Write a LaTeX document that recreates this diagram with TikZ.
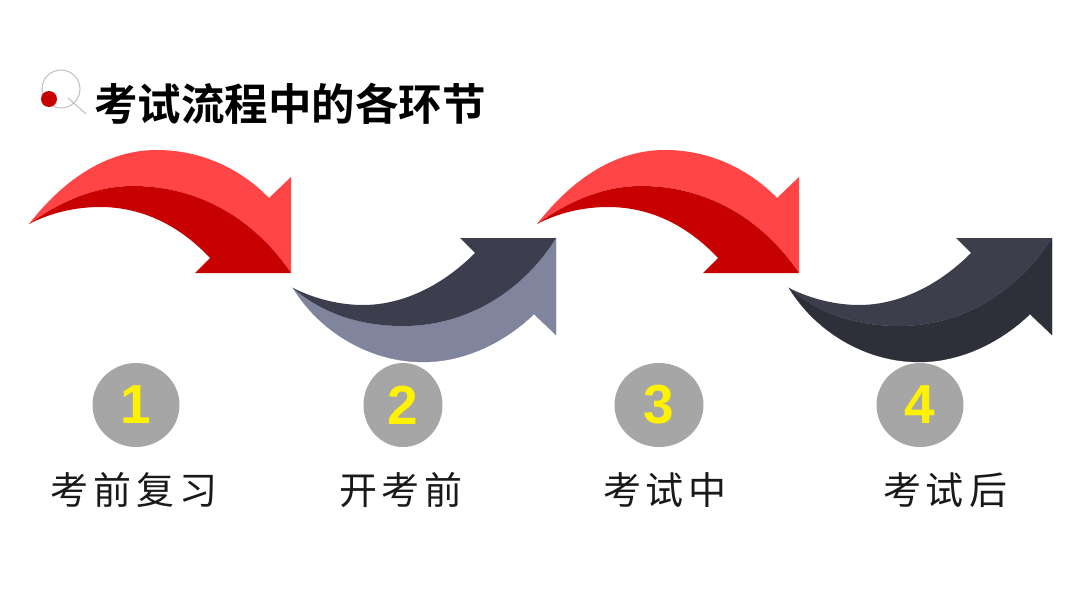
\documentclass[tikz,border=0pt]{standalone}
\usepackage{fontspec}
\usetikzlibrary{shapes.geometric}
\setmainfont{Liberation Sans}
\newfontfamily\cjk{Noto Sans CJK SC}
\newfontfamily\cjkb{Noto Sans CJK SC Bold}
\newcommand{\gp}{\hspace{5pt}}
\definecolor{redL}{HTML}{FF4545}
\definecolor{redD}{HTML}{C70000}
\definecolor{slateL}{HTML}{80849C}
\definecolor{slateD}{HTML}{3C3E4E}
\definecolor{inkL}{HTML}{3C3E4C}
\definecolor{inkD}{HTML}{2E3039}
\definecolor{disc}{HTML}{A6A6A6}
\tikzset{
  x=1pt,y=-1pt,
  numdisc/.style={ellipse,fill=disc,minimum width=87pt,minimum height=84pt,inner sep=0pt,text=yellow,font=\fontsize{55}{55}\selectfont\bfseries},
  steplabel/.style={font=\cjk\fontsize{38}{38}\selectfont,text=black!90,inner sep=0pt},
  titlelabel/.style={font=\cjkb\fontsize{43.5}{43.5}\selectfont,text=black,inner sep=0pt,anchor=west},
  pics/downarrow/.style 2 args={code={
    \fill[#1] (29,224) .. controls (65,178) and (108,150) .. (157,150)
      .. controls (200,150) and (240,168) .. (269,198) -- (291,177) -- (291,273)
      .. controls (255,220) and (200,186) .. (133,186)
      .. controls (100,186) and (65,198) .. (29,224) -- cycle;
    \fill[#2] (29,224) .. controls (65,198) and (100,186) .. (133,186)
      .. controls (200,186) and (255,220) .. (291,273) -- (195,273) -- (210,258)
      .. controls (182,228) and (145,207) .. (100,207)
      .. controls (75,207) and (50,213) .. (29,224) -- cycle;
  }},
  pics/uparrow/.style 2 args={code={
    \filldraw[fill=#1,draw=#1,line width=.3pt] (293,288) .. controls (320,332) and (370,362) .. (423,362)
      .. controls (465,362) and (505,342) .. (534,314) -- (556,335) -- (556,238)
      .. controls (525,288) and (470,326) .. (403,326)
      .. controls (365,326) and (325,316) .. (293,288) -- cycle;
    \fill[#2] (293,288) .. controls (325,316) and (365,326) .. (403,326)
      .. controls (470,326) and (525,288) .. (556,238) -- (460,238) -- (475,253)
      .. controls (440,288) and (400,305) .. (363,305)
      .. controls (340,305) and (315,299) .. (293,288) -- cycle;
  }}
}
\begin{document}
\begin{tikzpicture}
\useasboundingbox (0,0) rectangle (1080,608);
\fill[white] (0,0) rectangle (1080,608);
% magnifier icon
\draw[black!25,line width=1pt] (61,89) circle (19);
\draw[black!25,line width=1pt] (68,98) -- (86,114);
\fill[redD] (49,99) circle (8);
\node[titlelabel] (title) at (94,104) {考试流程中的各环节};
% arrows
\pic {downarrow={redL}{redD}};
\pic {uparrow={slateL}{slateD}};
\pic[xshift=508pt] {downarrow={redL}{redD}};
\pic[xshift=496pt] {uparrow={inkD}{inkL}};
% discs
\node[numdisc] (n1) at (136,405) {1};
\node[numdisc,minimum width=79pt] (n2) at (403,405) {2};
\node[numdisc,minimum width=89pt] (n3) at (659,405) {3};
\node[numdisc] (n4) at (920,405) {4};
% labels
\node[steplabel] (l1) at (134,490) {考\gp 前\gp 复\gp 习};
\node[steplabel] (l2) at (401,490) {开\gp 考\gp 前};
\node[steplabel] (l3) at (665,490) {考\gp 试\gp 中};
\node[steplabel] (l4) at (945,490) {考\gp 试\gp 后};
\end{tikzpicture}
\end{document}
